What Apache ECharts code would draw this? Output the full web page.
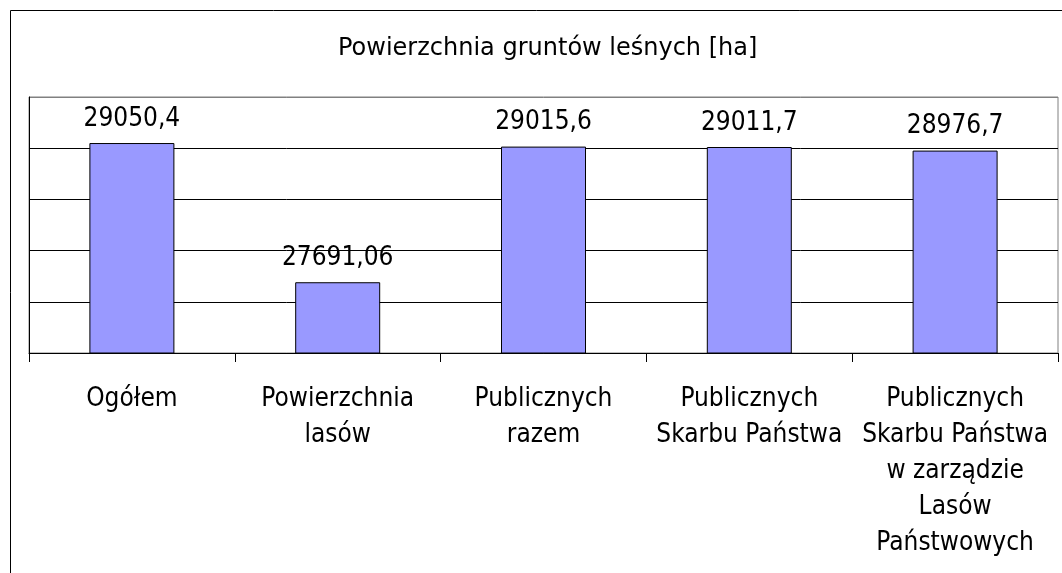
<!DOCTYPE html>
<html>
<head>
<meta charset="utf-8">
<script src="https://cdn.jsdelivr.net/npm/echarts@6/dist/echarts.min.js"></script>
<style>
  html, body { margin: 0; padding: 0; background: #fff; }
  #main { width: 1062px; height: 573px; }
</style>
</head>
<body>
<div id="main"></div>
<script>
// dane
var categories = [
	'Ogółem',
	'Powierzchnia\nlasów',
	'Publicznych\nrazem',
	'Publicznych\nSkarbu Państwa',
	'Publicznych\nSkarbu Państwa\nw zarządzie\nLasów\nPaństwowych'
];
var values = [29050.4, 27691.06, 29015.6, 29011.7, 28976.7];
var yMin = 27000, yMax = 29500, yStep = 500;

var font = '"DejaVu Sans Condensed", "DejaVu Sans", sans-serif';

var myChart = echarts.init(document.getElementById('main'));

myChart.setOption({
	animation: false,
	backgroundColor: '#fff',
	title: {
		text: 'Powierzchnia gruntów leśnych [ha]',
		left: 333,
		top: 32,
		textStyle: {
			fontFamily: '"DejaVu Sans", sans-serif',
			fontSize: 24,
			fontWeight: 'normal',
			color: '#000'
		}
	},
	// ramka wykresu
	graphic: [{
		type: 'rect',
		shape: { x: 10.5, y: 10.5, width: 1200, height: 1000 },
		style: { fill: 'none', stroke: '#000', lineWidth: 1 },
		silent: true
	}],
	grid: {
		left: 29,
		right: 4,
		top: 97,
		bottom: 220,
		show: true,
		borderColor: '#808080',
		borderWidth: 1
	},
	xAxis: {
		type: 'category',
		data: categories,
		axisLine: { lineStyle: { color: '#000', width: 1 } },
		axisTick: { show: true, length: 9, lineStyle: { color: '#000' } },
		axisLabel: {
			interval: 0,
			margin: 28,
			fontFamily: font,
			fontSize: 26,
			lineHeight: 36,
			color: '#000',
			align: 'center'
		}
	},
	yAxis: {
		type: 'value',
		min: yMin,
		max: yMax,
		interval: yStep,
		axisLine: { show: true, lineStyle: { color: '#000' } },
		axisTick: { show: false },
		axisLabel: { show: false },
		splitLine: {
			lineStyle: { color: ['#000', '#000', '#000', '#000', '#000', '#808080'], width: 1 }
		}
	},
	series: [{
		type: 'bar',
		data: values,
		barWidth: 85,
		itemStyle: {
			color: '#9999ff',
			borderColor: '#000',
			borderWidth: 1
		},
		label: {
			show: true,
			position: 'top',
			distance: 11,
			fontFamily: font,
			fontSize: 26,
			color: '#000',
			formatter: function (p) {
				return String(p.value).replace('.', ',');
			}
		}
	}]
});
</script>
</body>
</html>
